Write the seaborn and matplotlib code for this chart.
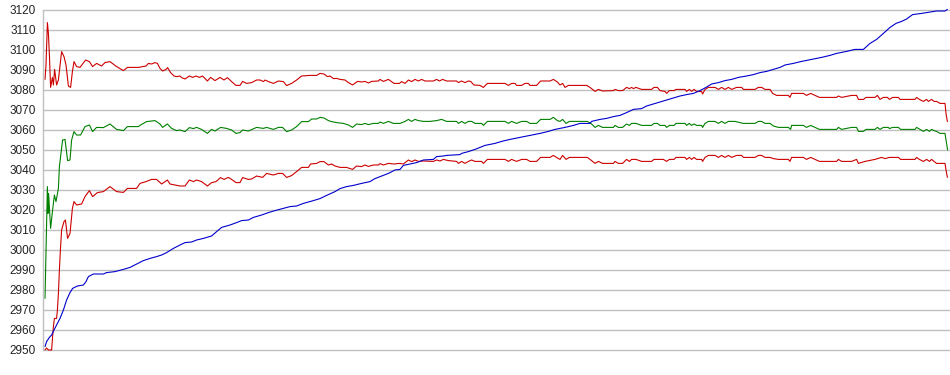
import matplotlib
matplotlib.use("Agg")
import matplotlib.pyplot as plt
import seaborn as sns
import pandas as pd

# ---------------- data (sample index t, value) ----------------
upper_t = [0, 0.5, 1.2, 1.7, 2.2, 2.8, 3.7, 4.2, 4.8, 5.8,
           6.7, 8.3, 9.5, 10.5, 11.7, 12.8, 13.7, 14.5, 15.8, 17.5,
           20.3, 22.2, 23.8, 25.8, 28.3, 30, 32.5, 35.8, 39.2, 41.2,
           46.7, 50.5, 51.7, 53.3, 55, 56.2, 57.5, 58.8, 60.5, 61.3,
           62.8, 64.5, 65.8, 67.5, 68.3, 70, 72.2, 73.8, 75.5, 77.2,
           78.8, 81.2, 82.8, 85, 87.5, 89.5, 91.2, 93.3, 95.5, 97.5,
           98.8, 100.8, 103.3, 105.8, 107.5, 109.2, 110, 111.7, 114.2, 116.7,
           119.2, 120.8, 123.3, 125.8, 128.3, 132.5, 135.8, 137.5, 139.5, 141.2,
           142.5, 144.2, 145.8, 147.5, 150, 151.7, 153.8, 156.2, 158.3, 160,
           161.7, 163.3, 166.7, 167.5, 169.2, 171.7, 174.5, 177.2, 178.3, 180,
           181.7, 183.3, 185, 186.7, 188.3, 190, 194.2, 195.8, 197.2, 198.8,
           200.8, 205.8, 206.7, 208.3, 210, 211.7, 212.8, 214.5, 217.5, 219.2,
           221.2, 230, 231.7, 233.3, 235, 235.8, 238.3, 240, 241.7, 242.5,
           245.8, 247.8, 252.5, 254.2, 256.2, 257.5, 258.8, 260, 261.7, 270.8,
           272.5, 275, 276.7, 278.8, 284.2, 285, 286.7, 288.8, 290.8, 292.2,
           293.3, 294.2, 295.5, 298.3, 303.3, 304.5, 306.2, 307.5, 310, 310.8,
           312.2, 314.5, 315.5, 320, 320.8, 322.2, 323.3, 324.5, 325.8, 328.3,
           328.8, 330, 331.7, 335, 336.7, 338.3, 340, 341.7, 343.3, 345.8,
           348.3, 349.2, 355, 356.7, 358.3, 360, 362.5, 363.8, 365.8, 371.7,
           372.5, 373.3, 379.2, 380.8, 382.8, 385, 387.2, 395.8, 396.7, 398.3,
           403.3, 405.8, 406.7, 409.2, 410.5, 415, 416.2, 417.5, 419.2, 421.2,
           422.2, 423.8, 426.7, 427.5, 435, 435.8, 437.2, 439.2, 440.8, 441.7,
           443.3, 444.5, 445.8, 447.5, 450, 450.5, 451.2]
upper_v = [3085.3, 3092.5, 3113.7, 3108.3, 3097.5, 3081.3, 3086.3, 3082.5, 3090.3, 3082.5,
           3085, 3099.2, 3096.7, 3092.5, 3082, 3081.3, 3089.2, 3094.2, 3091.7, 3091.3,
           3095, 3094.2, 3091.7, 3093.3, 3092, 3093.7, 3094.2, 3091.7, 3089.7, 3091.3,
           3091.3, 3092, 3093.3, 3093, 3093.7, 3093.3, 3090.8, 3089.5, 3090.3, 3091.2,
           3088.7, 3087, 3086.7, 3087, 3086.2, 3085.5, 3087, 3086.3, 3087, 3086.3,
           3087, 3084.5, 3086.3, 3084.7, 3086.3, 3085, 3086.2, 3084.2, 3082.3, 3082.3,
           3084.3, 3083.3, 3083.7, 3085, 3085, 3084.2, 3085, 3084.2, 3083.3, 3084.5,
           3084.2, 3082.2, 3083.3, 3085, 3087, 3087.3, 3087.3, 3088.3, 3088, 3086.7,
           3087, 3085.7, 3085.8, 3085.3, 3085, 3083.7, 3082.5, 3084.3, 3084, 3084.3,
           3083.5, 3084.3, 3084.5, 3085.3, 3084.3, 3085.3, 3083.3, 3083.3, 3084.2, 3083.3,
           3085, 3084.2, 3085.3, 3084.5, 3085.3, 3084.5, 3084.5, 3085.3, 3084.5, 3085.3,
           3084.5, 3084.5, 3083.7, 3084.5, 3083.7, 3084.5, 3084.3, 3082.5, 3082.3, 3081.3,
           3083.3, 3083.3, 3082.3, 3083.3, 3083.3, 3082.3, 3082.3, 3083.3, 3083.3, 3082.3,
           3082.3, 3084.5, 3084.5, 3085.3, 3084, 3082.5, 3083.3, 3081.3, 3082.3, 3082.3,
           3081.3, 3079.3, 3080.3, 3079.5, 3079.7, 3080.3, 3079.7, 3079.7, 3081.3, 3080.7,
           3081.3, 3080.7, 3081.3, 3080.3, 3080.3, 3081.3, 3081.3, 3079.7, 3079.3, 3078.3,
           3079.7, 3079.7, 3080.3, 3080.3, 3079.3, 3080.3, 3079.3, 3080.3, 3079.3, 3079.2,
           3078, 3080.3, 3081.3, 3081.3, 3080.3, 3081.3, 3080.3, 3081.3, 3080.3, 3081.3,
           3081.3, 3080.3, 3080.3, 3081.3, 3081.3, 3080.3, 3080.3, 3078.3, 3077.3, 3077.3,
           3076.3, 3078.3, 3078.3, 3077.3, 3078.3, 3077.3, 3076.3, 3076.3, 3077, 3076.3,
           3077.3, 3077.3, 3075.3, 3075.3, 3076.3, 3076.3, 3077.3, 3075.3, 3076.3, 3076.3,
           3075.3, 3076.3, 3076.3, 3075.3, 3075.3, 3076.3, 3075.3, 3074.3, 3075.3, 3074.3,
           3075.3, 3074.3, 3074.3, 3073.3, 3073.3, 3068.3, 3064.2]

green_t = [0, 0.3, 1.2, 1.5, 1.8, 2.8, 3.8, 4.7, 5.5, 6.7,
           7.2, 8.8, 10, 11.3, 12.5, 13.3, 14.5, 15.8, 17.8, 20,
           22.2, 23.8, 25.8, 29.2, 32.5, 35.8, 39.2, 41.2, 46.7, 47.8,
           50.8, 55, 57.5, 58.8, 61.2, 63.3, 65.8, 67.5, 70, 72.2,
           74.2, 75.8, 78.3, 81.2, 83.3, 85, 87.8, 90.8, 93.3, 95.5,
           97.5, 98.8, 101.7, 105.8, 109.2, 110.8, 114.2, 116.7, 118.8, 120.8,
           123.3, 125.8, 128.3, 131.7, 133.3, 135.8, 137.5, 139.5, 141.7, 143.3,
           145.8, 149.2, 151.7, 153.8, 155.8, 158.3, 160, 161.7, 164.2, 166.7,
           167.5, 169.2, 171.7, 174.2, 177.5, 180, 181.7, 183.3, 185, 186.7,
           189.2, 192.5, 195.8, 198.3, 200.8, 205.8, 206.7, 208.3, 210, 211.7,
           213.3, 215, 218.3, 219.2, 221.2, 230, 231.7, 233.3, 235.8, 238.3,
           240.8, 242.5, 245.8, 247.8, 252.5, 254.2, 256.2, 257.5, 258.8, 260.5,
           262.2, 271.2, 273.3, 275, 276.7, 278.8, 284.2, 285, 286.7, 288.8,
           290.8, 292.2, 293.3, 295.5, 298.3, 303.3, 304.5, 306.2, 307.5, 310,
           310.8, 312.2, 314.5, 315.5, 320, 320.8, 322.2, 323.3, 324.5, 325.8,
           328.3, 328.8, 330, 331.7, 335, 336.7, 338.3, 340, 341.7, 345,
           349.2, 355, 356.7, 358.3, 360, 362.5, 364.2, 366.7, 371.7, 372.8,
           373.3, 379.2, 380.8, 382.8, 385, 387.2, 395.8, 396.7, 398.3, 403.3,
           405.8, 406.7, 409.2, 410.5, 415, 416.2, 417.5, 419.2, 421.7, 422.2,
           423.8, 426.7, 427.8, 435, 435.8, 437.5, 439.2, 440.8, 442.2, 443.3,
           444.5, 445.8, 447.5, 450, 450.8, 451.3]
green_v = [2975.8, 2990, 3031.7, 3018.3, 3028.3, 3010.8, 3020, 3027.5, 3024.2, 3030.8,
           3041.7, 3055, 3055.3, 3044.7, 3045, 3055, 3059.2, 3057.5, 3057.5, 3061.7,
           3062.5, 3059.2, 3061.3, 3061.2, 3063, 3060.3, 3059.7, 3061.7, 3061.7, 3062.5,
           3064.2, 3064.7, 3063, 3061.3, 3063, 3060.8, 3059.7, 3060, 3059.2, 3061.2,
           3060.7, 3061.3, 3060.3, 3058.3, 3060.3, 3059.5, 3061.3, 3060.8, 3060, 3058.3,
           3058.7, 3060, 3059.5, 3061.3, 3060.8, 3061.3, 3060.3, 3061.3, 3061.3, 3059.2,
           3060, 3061.7, 3064.2, 3064.2, 3065.5, 3065.5, 3066.3, 3066, 3064.7, 3064.2,
           3063.7, 3063.3, 3062.5, 3061.3, 3063, 3062.7, 3063.3, 3062.7, 3063.3, 3063.3,
           3064, 3063.3, 3064.3, 3063.3, 3063.3, 3064.3, 3065.3, 3064.3, 3065.3, 3064.7,
           3064.3, 3064.3, 3064.7, 3065.3, 3064.3, 3064.3, 3063.3, 3064.3, 3063.3, 3064.3,
           3064.3, 3063.3, 3063.3, 3062.3, 3064.3, 3064.3, 3063.3, 3064.3, 3063.3, 3064.3,
           3064.3, 3063.3, 3063.3, 3065.3, 3065.3, 3066.3, 3064.7, 3064.3, 3065.3, 3063.3,
           3064.3, 3064.3, 3063, 3061.3, 3062.3, 3061.3, 3061.3, 3062.3, 3061.3, 3061.3,
           3063, 3062.3, 3063.3, 3063.3, 3062.3, 3062.3, 3063.3, 3063.3, 3062.3, 3062.3,
           3061.3, 3062.3, 3062.3, 3063.3, 3063.3, 3062.3, 3063.3, 3062.3, 3063, 3062.3,
           3062.3, 3061.3, 3063.3, 3064.3, 3064.3, 3063.3, 3064.3, 3063.3, 3064.3, 3064.3,
           3063.3, 3063.3, 3064.3, 3064.3, 3063.3, 3063.3, 3062, 3061.3, 3061.3, 3060.3,
           3062.3, 3062.3, 3061.3, 3062.3, 3061.3, 3060.3, 3060.3, 3061.3, 3060.3, 3061.3,
           3061.3, 3059.3, 3059.3, 3060.3, 3060.3, 3061.3, 3060.3, 3061.3, 3061.3, 3060.7,
           3061.3, 3061.3, 3060.3, 3060.3, 3061.3, 3060.3, 3059.3, 3060.3, 3059.3, 3060.3,
           3059.7, 3059.3, 3058.3, 3058.3, 3053.3, 3050]

lower_t = [0, 0.8, 1.7, 3.3, 4.2, 4.7, 5.8, 6.2, 6.7, 7.2, 7.7, 8.3, 9.5,
           10.2, 11.3, 12.5, 13.7, 14.5, 15.8, 18.3, 20, 22.2, 23.8,
           26.2, 29.2, 32.5, 35.8, 39.2, 41.2, 45.8, 47.5, 50.5, 53.3,
           55.8, 58.3, 61.2, 62.5, 65, 67.5, 70, 72.2, 74.2, 75.8,
           78.3, 81.2, 83.3, 85.5, 87.8, 89.5, 91.7, 93.3, 95.5, 97.5,
           98.8, 101.7, 103.3, 105.8, 108.8, 110.8, 114.2, 116.7, 118.8, 120.8,
           123.3, 125.8, 128.3, 131.7, 132.8, 135.8, 137.5, 139.5, 141.7, 143.3,
           145, 147.5, 150.8, 153.8, 155.8, 158.3, 160, 161.7, 164.2, 166.7,
           167.5, 169.2, 171.7, 174.5, 177.2, 179.2, 181.7, 183.3, 185, 186.7,
           189.2, 194.2, 195.8, 197.5, 199.2, 201.7, 205.8, 206.7, 208.3, 210,
           211.7, 213.3, 215, 218.3, 219.2, 221.2, 230, 231.7, 233.3, 235.8,
           238.3, 240.8, 242.5, 245.8, 247.8, 252.5, 254.2, 256.2, 257.5, 258.8,
           260.5, 262.2, 271.2, 273.3, 275, 276.7, 278.8, 284.2, 285, 286.7,
           288.8, 290.8, 292.2, 293.3, 295.5, 298.3, 303.3, 304.5, 309.2, 310.8,
           312.2, 314.5, 315.5, 320, 320.8, 322.2, 323.3, 324.5, 325.8, 328.3,
           328.8, 330, 331.7, 335, 336.7, 338.3, 340, 341.7, 343.3, 345.8,
           348.3, 349.2, 355, 356.7, 358.3, 360, 362.5, 364.2, 366.7, 371.7,
           372.5, 373.3, 379.2, 380.8, 382.8, 385, 387.2, 395.8, 396.7, 398.3,
           403.3, 405.8, 406.7, 410, 415, 418.3, 420, 422.2, 426.7, 427.8,
           435, 435.8, 437.2, 439.2, 440.8, 442.2, 443.3, 444.5, 445.8, 450,
           450.5, 451.2]
lower_v = [2950, 2951, 2950, 2950, 2961.7, 2965.8, 2965.8, 2970, 2978.3, 2990, 3000, 3010, 3014.2,
           3015, 3005.8, 3008.3, 3020.8, 3024.2, 3022.5, 3023, 3026.7, 3029.7, 3026.7,
           3028.7, 3029.2, 3031.7, 3029.2, 3028.8, 3030.8, 3030.8, 3033.3, 3034.2, 3035.3,
           3035.3, 3033, 3035, 3033, 3032.5, 3032, 3032, 3035, 3034.2, 3035,
           3034.2, 3032, 3033.7, 3034.2, 3036.2, 3035.3, 3036.3, 3035.3, 3033.7, 3033.7,
           3036.2, 3035.3, 3035.5, 3037, 3036.3, 3038.3, 3037.5, 3038.3, 3038.3, 3036.3,
           3037.2, 3039.2, 3041.3, 3041.3, 3043, 3043.3, 3044.2, 3044.2, 3042.5, 3043,
           3042, 3041.3, 3041.3, 3040.3, 3042, 3041.7, 3042.5, 3041.8, 3042.5, 3042.5,
           3043.2, 3042.5, 3043.3, 3043, 3043.3, 3043, 3045, 3044.2, 3045, 3044.3,
           3044.5, 3044.3, 3045, 3044.5, 3045.3, 3044.7, 3044.3, 3043.3, 3044.3, 3043.3,
           3044.3, 3045, 3044.3, 3044.3, 3043.3, 3045.3, 3045.3, 3044.3, 3045.3, 3044.3,
           3045.3, 3045.3, 3044.3, 3044.3, 3046.3, 3046.3, 3047.3, 3046, 3045.3, 3047.3,
           3045.3, 3046.3, 3046.3, 3044.7, 3043.3, 3044.3, 3043.3, 3043.3, 3044.3, 3043.3,
           3043.3, 3045.3, 3044.3, 3045.3, 3045.3, 3044.3, 3044.3, 3045.3, 3045.3, 3044.3,
           3045.3, 3045.3, 3046.3, 3046.3, 3045.3, 3046.3, 3045.3, 3046.3, 3045.3, 3045.3,
           3044.3, 3046.3, 3047.3, 3047.3, 3046.3, 3047.3, 3046.3, 3047.3, 3046.3, 3047.3,
           3047.3, 3046.3, 3046.3, 3047.3, 3047.3, 3046.3, 3046.3, 3045.7, 3045.3, 3045.3,
           3044.3, 3046.3, 3046.3, 3045.3, 3046.3, 3045.3, 3044.3, 3044.3, 3045.3, 3044.3,
           3044.3, 3045.3, 3043.3, 3044.3, 3045.3, 3046.3, 3045.7, 3046.3, 3046.3, 3045.3,
           3045.3, 3046.3, 3045.3, 3044.3, 3045.3, 3044.3, 3045.3, 3044.3, 3043.3, 3043.3,
           3040, 3036.3]

blue_t = [0, 0.8, 2.2, 3.3, 4.5, 5.8, 7.5, 9.2, 10.8, 12.5,
          13.8, 16.2, 19.2, 20.5, 21.7, 24.2, 29.2, 30.8, 35, 39.2,
          42.5, 45.8, 49.2, 52.5, 55.8, 58.3, 60.8, 64.2, 67.5, 70,
          73.3, 75.8, 79.2, 83.3, 85.8, 88.3, 92.5, 95.8, 98.3, 101.7,
          104.2, 108.3, 111.7, 115, 119.2, 122.5, 125.8, 129.2, 132.5, 134.2,
          137.5, 140.8, 145, 147.5, 150.8, 154.2, 158.3, 162.5, 165, 168.3,
          171.7, 175, 177.5, 179.2, 182.5, 185.8, 189.2, 194.2, 195.8, 199.2,
          200.8, 207.5, 208.3, 211.7, 215, 217.5, 220, 225, 228.3, 232.5,
          237.5, 242.5, 247.5, 251.7, 255, 260, 264.2, 267.5, 272.5, 273.3,
          277.5, 280.8, 284.2, 287.5, 290.8, 294.2, 298.3, 300.8, 304.2, 307.5,
          310.8, 314.2, 317.5, 320.8, 324.2, 327.5, 330.5, 333.3, 336.7, 340,
          343.3, 346.7, 350.8, 354.2, 357.5, 360.8, 364.2, 367.5, 370, 374.2,
          378.3, 383.3, 388.3, 392.5, 395.8, 400.8, 405, 409.2, 412.5, 415.8,
          419.2, 422.5, 425.5, 428.3, 430.8, 433.8, 438.3, 442.5, 445.8, 450,
          451.2]
blue_v = [2951.7, 2954.2, 2956.3, 2957.5, 2960, 2962.5, 2965.8, 2970, 2975, 2978.7,
          2980.8, 2982, 2982.5, 2984.2, 2986.7, 2988, 2988, 2988.7, 2989.2, 2990.3,
          2991.3, 2993, 2994.7, 2995.8, 2996.7, 2997.5, 2998.7, 3000.8, 3002.5, 3003.7,
          3004, 3005, 3005.8, 3007, 3009.2, 3011.3, 3012.5, 3013.7, 3014.7, 3015,
          3016.3, 3017.5, 3018.7, 3019.7, 3020.8, 3021.7, 3022, 3023.3, 3024.2, 3024.7,
          3025.7, 3027.3, 3029.2, 3030.7, 3031.7, 3032.3, 3033.3, 3034.2, 3035.7, 3037,
          3038.3, 3040, 3040.3, 3042.3, 3043, 3043.7, 3045, 3045.3, 3046.7, 3047,
          3047.3, 3047.7, 3048.3, 3049.2, 3050.3, 3051.3, 3052.3, 3053.3, 3054.3, 3055.3,
          3056.3, 3057.3, 3058.3, 3059.3, 3060.3, 3061.3, 3062.3, 3063.3, 3063.3, 3064.3,
          3065.3, 3065.8, 3066.7, 3067.3, 3068.7, 3070.3, 3070.7, 3072, 3073, 3074,
          3075, 3076, 3077, 3077.7, 3078.3, 3079.7, 3081.3, 3083, 3083.7, 3084.7,
          3085.3, 3086.3, 3087, 3087.7, 3088.7, 3089.3, 3090.3, 3091.3, 3092.5, 3093.3,
          3094.3, 3095.3, 3096.3, 3097.3, 3098.3, 3099.3, 3100.3, 3100.3, 3103.3, 3105.3,
          3108.3, 3111.3, 3113.3, 3114.3, 3115.5, 3117.7, 3118.3, 3119, 3119.5, 3119.5,
          3120.3]

y_ticks = list(range(2950, 3121, 10))

# ---------------- plot ----------------
sns.set_style("white")
plt.rcParams["font.family"] = ["Liberation Sans", "DejaVu Sans"]

fig = plt.figure(figsize=(9.5, 3.75), dpi=100)
ax = fig.add_axes([43 / 950, 25 / 375, 907 / 950, 340 / 375])

series = [
    (upper_t, upper_v, "#cc0000"),
    (green_t, green_v, "#008000"),
    (lower_t, lower_v, "#cc0000"),
    (blue_t, blue_v, "#0000cc"),
]
for t, v, c in series:
    df = pd.DataFrame({"t": t, "v": v})
    sns.lineplot(data=df, x="t", y="v", ax=ax, color=c, linewidth=0.8,
                 estimator=None, sort=False, clip_on=False)

ax.set_xlim(-1, 452.5)
ax.set_ylim(2950, 3120)
ax.set_xticks([])
ax.set_yticks(y_ticks)
ax.set_yticklabels([str(v) for v in y_ticks])
ax.set_xlabel("")
ax.set_ylabel("")
ax.yaxis.grid(True, color="#c0c0c0", linewidth=1.0)
for gl in ax.get_ygridlines():
    gl.set_clip_on(False)
ax.set_axisbelow(True)
for s in ["top", "right", "bottom"]:
    ax.spines[s].set_visible(False)
ax.spines["left"].set_color("#c0c0c0")
ax.spines["left"].set_linewidth(1.0)
ax.tick_params(axis="y", length=0, pad=5, labelsize=8.5, labelcolor="#222222")

fig.savefig("out.png", dpi=100)
